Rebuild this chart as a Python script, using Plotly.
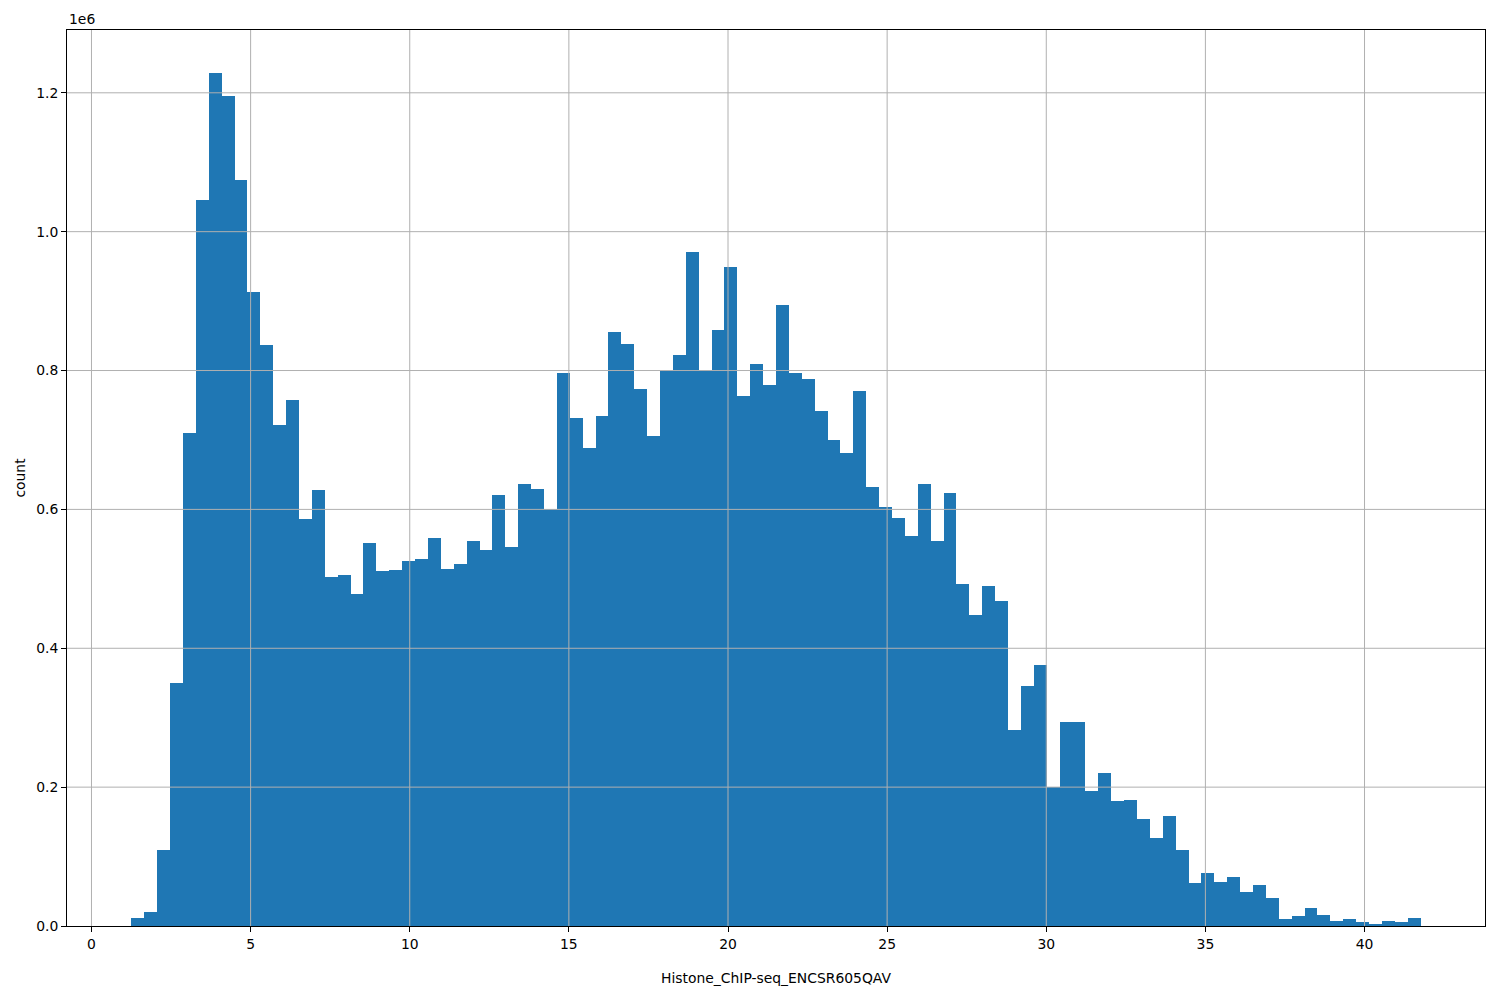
import numpy as np
import plotly.graph_objects as go

# Histogram bins (100 equal bins)
bin_start = 1.256
bin_end = 41.76
n_bins = 100

counts_e6 = [
    0.0115, 0.020, 0.109, 0.350, 0.710, 1.045, 1.229, 1.196, 1.075, 0.913,
    0.837, 0.722, 0.758, 0.586, 0.628, 0.503, 0.505, 0.478, 0.551, 0.511,
    0.513, 0.526, 0.529, 0.559, 0.514, 0.521, 0.555, 0.542, 0.621, 0.546,
    0.637, 0.630, 0.600, 0.797, 0.731, 0.689, 0.735, 0.855, 0.838, 0.774,
    0.706, 0.799, 0.822, 0.971, 0.801, 0.859, 0.949, 0.763, 0.810, 0.779,
    0.895, 0.796, 0.788, 0.742, 0.700, 0.681, 0.770, 0.632, 0.604, 0.587,
    0.562, 0.636, 0.554, 0.624, 0.493, 0.448, 0.489, 0.468, 0.283, 0.346,
    0.376, 0.200, 0.294, 0.294, 0.194, 0.220, 0.180, 0.182, 0.154, 0.127,
    0.158, 0.110, 0.062, 0.076, 0.063, 0.070, 0.049, 0.059, 0.040, 0.010,
    0.014, 0.026, 0.016, 0.007, 0.010, 0.006, 0.003, 0.007, 0.006, 0.012,
]
counts = [c * 1e6 for c in counts_e6]

x_ticks = [0, 5, 10, 15, 20, 25, 30, 35, 40]
y_ticks = [0, 0.2e6, 0.4e6, 0.6e6, 0.8e6, 1.0e6, 1.2e6]
y_tick_labels = ["0.0", "0.2", "0.4", "0.6", "0.8", "1.0", "1.2"]

x_label = "Histone_ChIP-seq_ENCSR605QAV"
y_label = "count"

edges = np.linspace(bin_start, bin_end, n_bins + 1)
width = edges[1] - edges[0]
centers = (edges[:-1] + edges[1:]) / 2

span = bin_end - bin_start
x_range = [bin_start - 0.05 * span, bin_end + 0.05 * span]
y_range = [0, max(counts) * 1.05]

FONT = "DejaVu Sans"
fig = go.Figure()
fig.add_trace(go.Bar(
    x=centers, y=counts, width=width,
    marker=dict(color="#1f77b4", line=dict(width=0)),
    hoverinfo="x+y", showlegend=False,
))

grid = dict(type="line", layer="above", line=dict(color="#b0b0b0", width=1))
shapes = []
for t in x_ticks:
    shapes.append(dict(grid, xref="x", yref="paper", x0=t, x1=t, y0=0, y1=1))
for t in y_ticks[1:]:
    shapes.append(dict(grid, xref="paper", yref="y", x0=0, x1=1, y0=t, y1=t))

fig.update_layout(
    width=1500, height=1000,
    margin=dict(l=59, r=23, t=22, b=82, autoexpand=False),
    paper_bgcolor="white", plot_bgcolor="white",
    font=dict(family=FONT, size=13.9, color="black"),
    bargap=0,
    shapes=shapes,
    xaxis=dict(
        range=x_range, tickvals=x_ticks, ticks="outside", ticklen=5, tickwidth=1,
        tickcolor="black", showgrid=False, zeroline=False,
        showline=True, linecolor="black", linewidth=1, mirror=True,
        title=dict(text=x_label, standoff=22, font=dict(size=13.9)),
        layer="above traces",
    ),
    yaxis=dict(
        range=y_range, tickvals=y_ticks, ticktext=y_tick_labels, ticks="outside",
        ticklen=5, tickwidth=1, tickcolor="black", showgrid=False, zeroline=False,
        showline=True, linecolor="black", linewidth=1, mirror=True,
        title=dict(text=y_label, standoff=7, font=dict(size=13.9)),
        layer="above traces",
    ),
    annotations=[dict(
        text="1e6", xref="paper", yref="paper", x=0, y=1, xanchor="left",
        yanchor="bottom", showarrow=False, yshift=1, font=dict(size=13.9),
    )],
)

fig.write_html("out.html")
